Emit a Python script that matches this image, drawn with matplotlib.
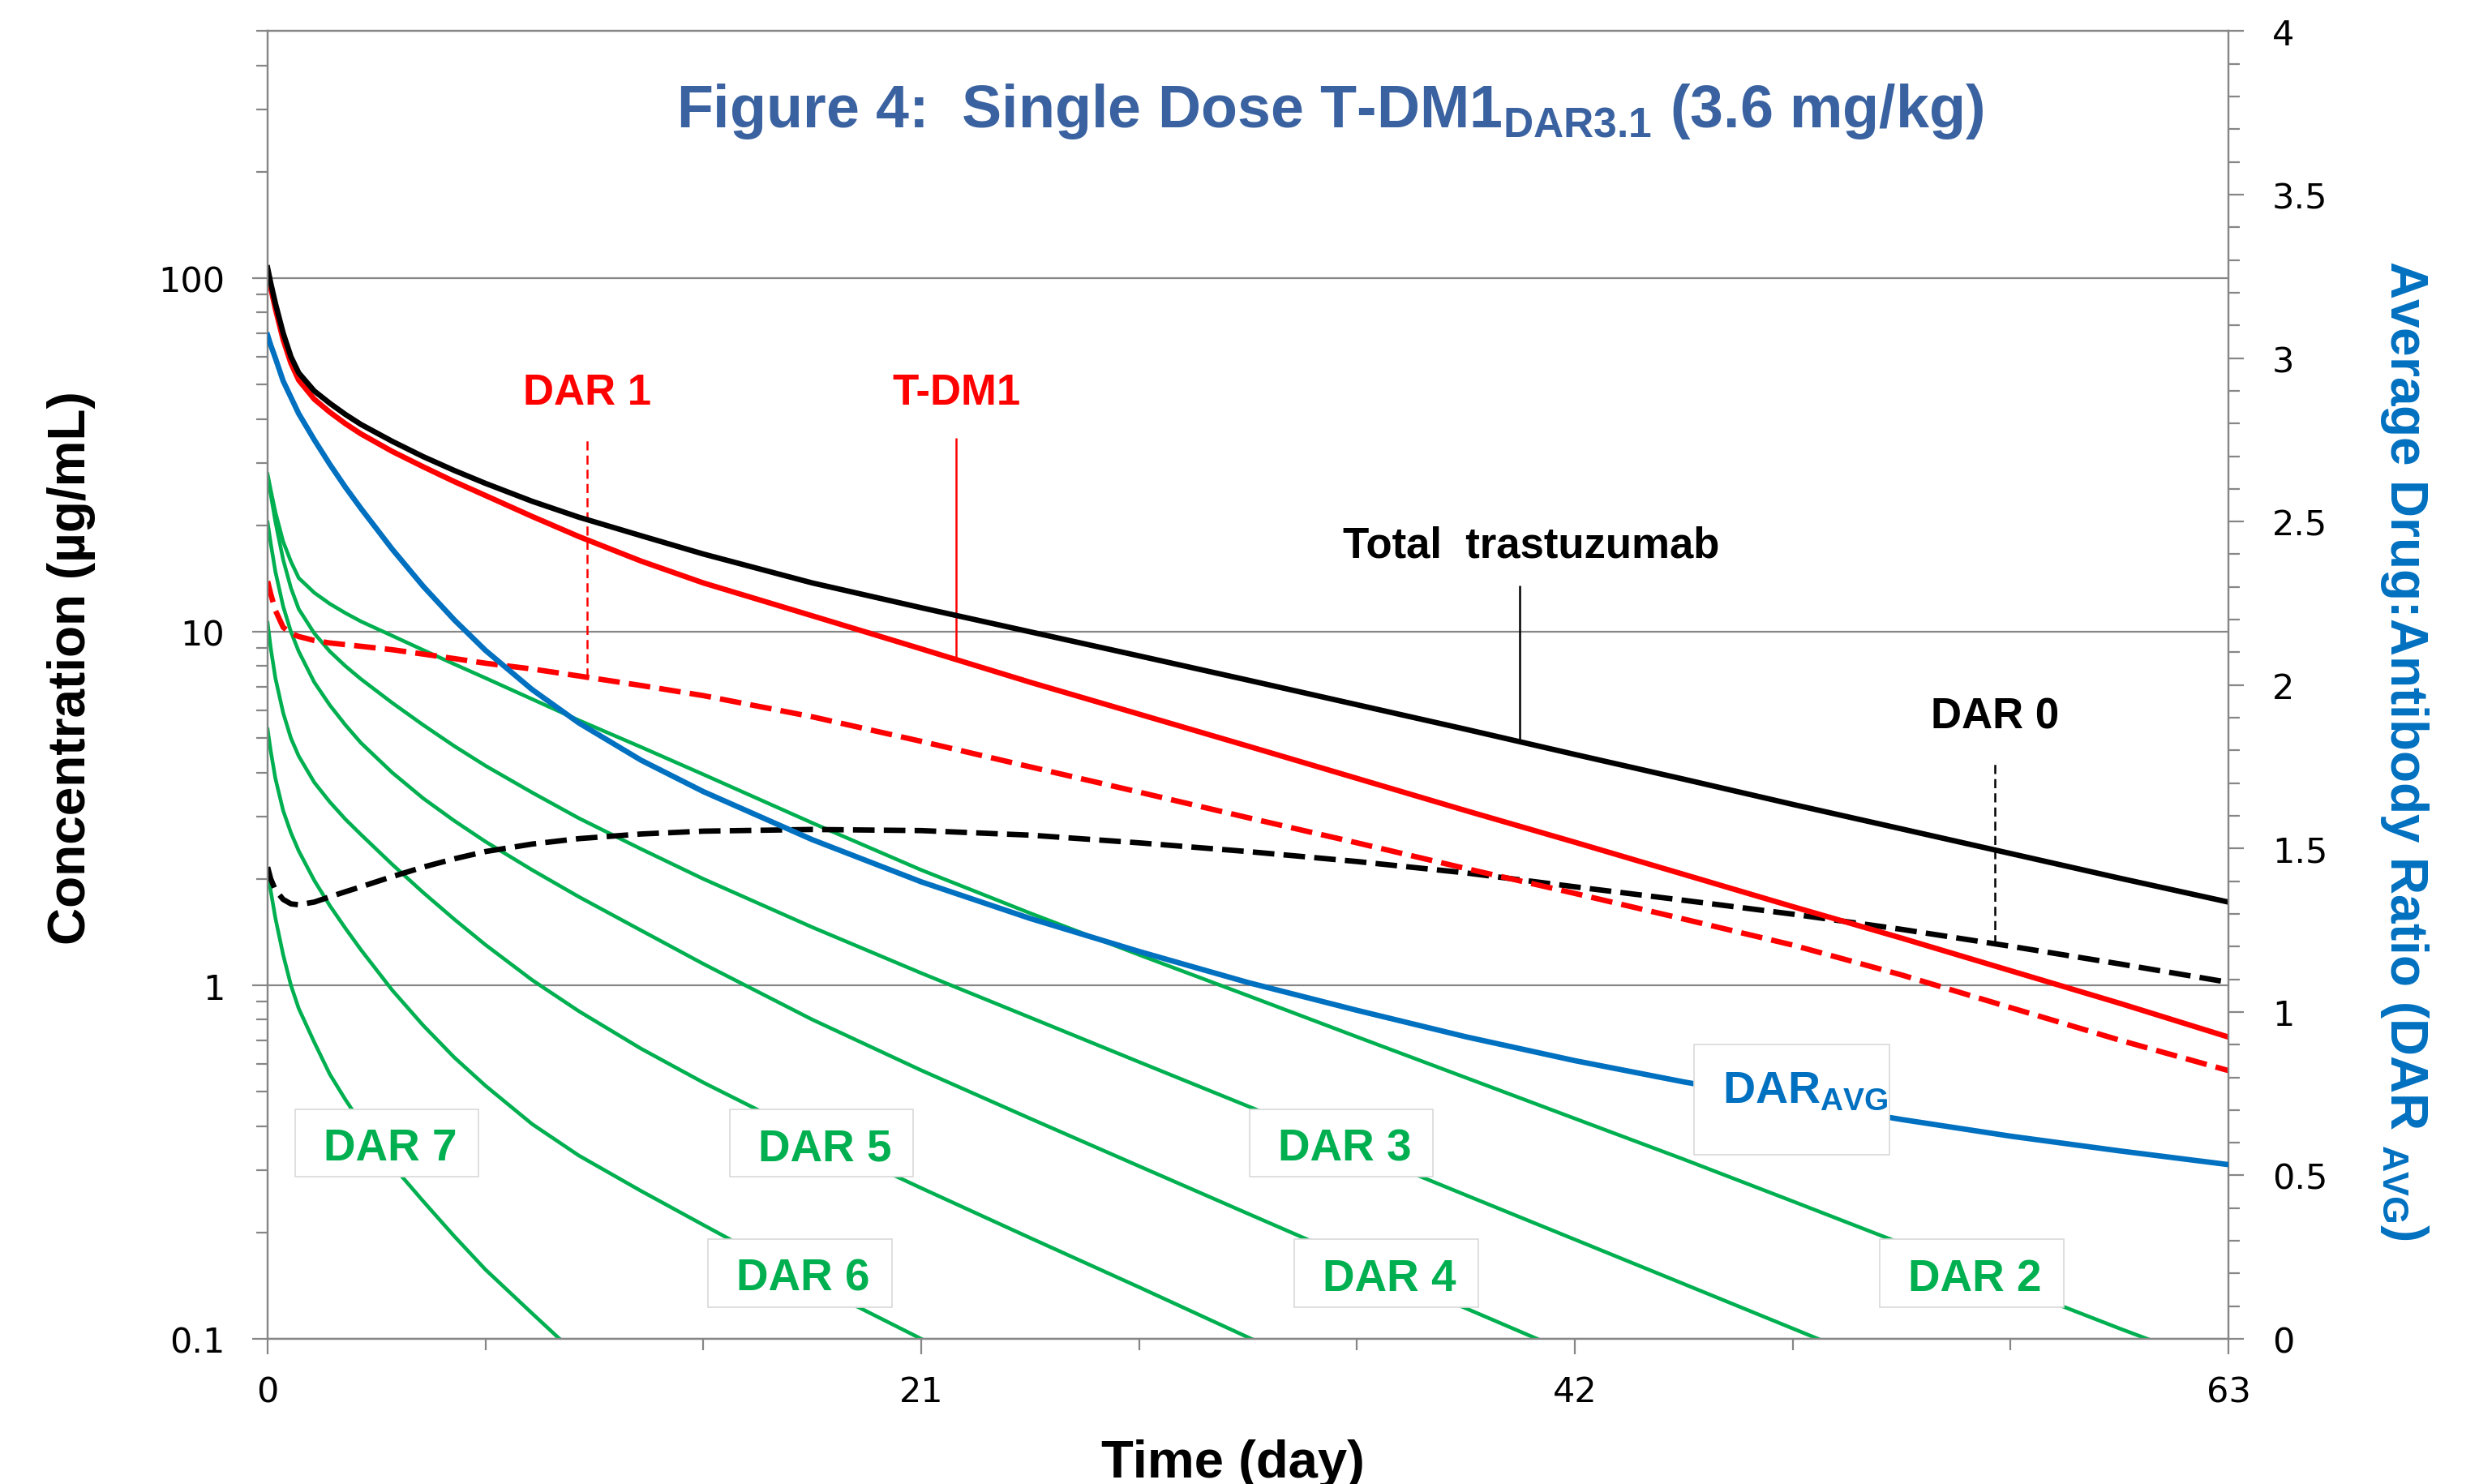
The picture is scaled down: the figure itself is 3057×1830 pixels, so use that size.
"""Figure 4 — single dose T-DM1 (3.6 mg/kg): concentration of DAR species vs time."""

import numpy as np
import matplotlib
matplotlib.use("Agg")
import matplotlib.pyplot as plt
from matplotlib.patches import Rectangle
from matplotlib.ticker import (FixedLocator, FuncFormatter, LogLocator,
                               MultipleLocator, NullFormatter)

# ─── Data ────────────────────────────────────────────────────────────────
days = [0, 0.1, 0.25, 0.5, 0.75, 1, 1.5, 2, 2.5, 3, 4, 5, 6, 7, 8.5, 10, 12,
        14, 17.5, 21, 24.5, 28, 31.5, 35, 38.5, 42, 45.5, 49, 52.5, 56, 59.5,
        63]
nan = np.nan

total_trastuzumab = [107, 97, 85, 70, 60, 54, 48, 44.3, 41.2, 38.6, 34.6, 31.3,
                     28.6, 26.3, 23.4, 21.1, 18.7, 16.6, 13.75, 11.7, 10.0,
                     8.55, 7.3, 6.22, 5.3, 4.5, 3.83, 3.25, 2.77, 2.36, 2.01,
                     1.72]
t_dm1 = [104, 94, 82, 67, 57.5, 51.5, 45.5, 41.8, 38.8, 36.3, 32.4, 29.3, 26.6,
         24.3, 21.2, 18.6, 15.85, 13.75, 11.1, 8.95, 7.2, 5.85, 4.75, 3.85,
         3.12, 2.54, 2.06, 1.67, 1.36, 1.1, 0.89, 0.714]
dar0 = [2.16, 2.0, 1.86, 1.75, 1.70, 1.69, 1.72, 1.78, 1.84, 1.90, 2.03, 2.16,
        2.28, 2.39, 2.51, 2.60, 2.68, 2.73, 2.76, 2.74, 2.66, 2.53, 2.39, 2.24,
        2.08, 1.90, 1.74, 1.59, 1.44, 1.29, 1.15, 1.02]
dar1 = [13.9, 12.8, 11.5, 10.3, 9.9, 9.7, 9.45, 9.3, 9.2, 9.1, 8.9, 8.65, 8.4,
        8.15, 7.85, 7.5, 7.05, 6.6, 5.75, 4.9, 4.15, 3.52, 2.98, 2.53, 2.14,
        1.82, 1.54, 1.3, 1.07, 0.865, 0.7, 0.574]
dar2 = [27.9, 25.2, 21.8, 18.0, 15.8, 14.2, 12.9, 12.0, 11.3, 10.7, 9.75, 8.88,
        8.1, 7.4, 6.45, 5.62, 4.72, 3.95, 2.88, 2.12, 1.6, 1.22, 0.935, 0.715,
        0.548, 0.42, 0.322, 0.245, 0.186, 0.141, 0.107, 0.082]
dar3 = [27.5, 24.5, 20.5, 16.0, 13.3, 11.6, 9.9, 8.8, 8.0, 7.35, 6.3, 5.45,
        4.75, 4.18, 3.51, 2.97, 2.43, 2.0, 1.46, 1.083, 0.811, 0.607, 0.455,
        0.341, 0.255, 0.191, 0.143, 0.107, 0.08, 0.06, nan, nan]
dar4 = [20.4, 17.8, 14.8, 11.8, 10.0, 8.8, 7.2, 6.2, 5.45, 4.85, 4.0, 3.38,
        2.92, 2.55, 2.12, 1.78, 1.43, 1.15, 0.8, 0.575, 0.42, 0.308, 0.226,
        0.166, 0.122, 0.09, 0.066, nan, nan, nan, nan, nan]
dar5 = [10.6, 9.0, 7.4, 5.9, 5.0, 4.45, 3.75, 3.3, 2.95, 2.67, 2.2, 1.83,
        1.537, 1.302, 1.035, 0.845, 0.662, 0.531, 0.372, 0.267, 0.193, 0.14,
        0.101, 0.073, nan, nan, nan, nan, nan, nan, nan, nan]
dar6 = [5.3, 4.6, 3.85, 3.12, 2.7, 2.4, 1.98, 1.68, 1.45, 1.26, 0.97, 0.77,
        0.625, 0.52, 0.405, 0.33, 0.262, 0.21, 0.143, 0.1, 0.071, nan, nan,
        nan, nan, nan, nan, nan, nan, nan, nan, nan]
dar7 = [2.1, 1.85, 1.55, 1.22, 1.0, 0.86, 0.69, 0.56, 0.475, 0.408, 0.31,
        0.245, 0.195, 0.157, 0.118, 0.089, 0.064, nan, nan, nan, nan, nan, nan,
        nan, nan, nan, nan, nan, nan, nan, nan, nan]
dar_avg = [3.07, 3.04, 3.0, 2.93, 2.88, 2.83, 2.75, 2.675, 2.605, 2.54, 2.416,
           2.302, 2.199, 2.106, 1.986, 1.884, 1.77, 1.674, 1.527, 1.398, 1.286,
           1.185, 1.09, 1.005, 0.924, 0.851, 0.786, 0.727, 0.671, 0.62, 0.575,
           0.533]

x_ticks = [0, 21, 42, 63]

# ─── Style ───────────────────────────────────────────────────────────────
AXIS_GRAY = "#868686"
BOX_EDGE = "#D9D9D9"
RED = "#FF0000"
GREEN = "#00B050"
BLUE = "#0070C0"
TITLE_BLUE = "#3A62A0"
TICK_FS = 31
LABEL_FS = 38
BOLD = dict(family=["Liberation Sans", "DejaVu Sans"], weight="bold")

plt.rcParams["font.family"] = ["Liberation Sans", "DejaVu Sans"]

fig = plt.figure(figsize=(30.57, 18.31), dpi=100, facecolor="white")
ax = fig.add_axes([0.10795, 0.09776, 0.79097, 0.88067])
ax2 = ax.twinx()

t = np.array(days)

# ─── Curves ──────────────────────────────────────────────────────────────
for series in (dar2, dar3, dar4, dar5, dar6, dar7):
    ax.plot(t, series, color=GREEN, lw=3.3, zorder=2, solid_joinstyle="round")

ax.plot(t, dar0, color="black", lw=4.8, dashes=(4.0, 1.7), zorder=3)
ax.plot(t, dar1, color=RED, lw=4.8, dashes=(4.0, 1.7), zorder=3)
ax.plot(t, t_dm1, color=RED, lw=4.8, zorder=3, solid_joinstyle="round")
ax.plot(t, total_trastuzumab, color="black", lw=4.8, zorder=3,
        solid_joinstyle="round")
ax2.plot(t, dar_avg, color=BLUE, lw=4.8, zorder=3, solid_joinstyle="round")

# ─── Axes ────────────────────────────────────────────────────────────────
ax.set_xlim(0, 63)
ax.set_yscale("log")
ax.set_ylim(0.1, 500)
ax2.set_ylim(0, 4)

ax.xaxis.set_major_locator(FixedLocator(x_ticks))
ax.xaxis.set_minor_locator(MultipleLocator(7))
ax.yaxis.set_major_locator(LogLocator(base=10, numticks=10))
ax.yaxis.set_minor_locator(LogLocator(base=10, subs=np.arange(2, 10), numticks=20))
ax.yaxis.set_major_formatter(FuncFormatter(lambda v, _: f"{v:g}"))
ax.yaxis.set_minor_formatter(NullFormatter())
ax2.yaxis.set_major_locator(MultipleLocator(0.5))
ax2.yaxis.set_minor_locator(MultipleLocator(0.1))
ax2.yaxis.set_major_formatter(FuncFormatter(lambda v, _: f"{v:g}"))

ax.yaxis.grid(True, which="major", color=AXIS_GRAY, lw=1.6)
ax.set_axisbelow(True)

for a in (ax, ax2):
    for spine in a.spines.values():
        spine.set_color(AXIS_GRAY)
        spine.set_linewidth(1.6)
    a.tick_params(which="both", direction="out", color=AXIS_GRAY, width=1.6,
                  labelsize=TICK_FS, labelfontfamily="DejaVu Sans",
                  labelcolor="black")
    a.tick_params(which="major", length=14)
    a.tick_params(which="minor", length=10)

ax.tick_params(axis="y", pad=24)
ax.tick_params(axis="x", pad=18)
ax2.tick_params(axis="y", pad=25)

# ─── Axis titles ─────────────────────────────────────────────────────────
fig.text(0.5365, 0.9143,
         r"Figure 4:  Single Dose T-DM1$_{\mathregular{DAR3.1}}$ (3.6 mg/kg)",
         ha="center", va="baseline", fontsize=53, color=TITLE_BLUE, **BOLD)
fig.text(0.0288, 0.55, "Concentration (µg/mL)", rotation=90, ha="center",
         va="center", fontsize=46, color="black", **BOLD)
fig.text(0.4975, 0.005, "Time (day)", ha="center", va="baseline",
         fontsize=47, color="black", **BOLD)
fig.text(0.970, 0.4948,
         r"Average Drug:Antibody Ratio (DAR $_{\mathregular{AVG}}$)",
         rotation=270, ha="center", va="center", fontsize=46, color=BLUE,
         **BOLD)

# ─── Leader labels ───────────────────────────────────────────────────────
def leader(text, x, y_text, y_top, series, color, dashed):
    y_bot = np.interp(x, t, series)
    ax.text(x, y_text, text, ha="center", va="center", fontsize=LABEL_FS,
            color=color, zorder=6, **BOLD)
    ax.vlines(x, y_bot, y_top, colors=color, lw=1.8, zorder=2.5,
              linestyles=(0, (4.5, 2.5)) if dashed else "solid")


leader("DAR 1", 10.27, 47.5, 35.3, dar1, RED, True)
leader("T-DM1", 22.13, 47.5, 35.3, t_dm1, RED, False)
ax.text(40.6, 17.6, "Total  trastuzumab", ha="center", va="center",
        fontsize=LABEL_FS, color="black", zorder=6, **BOLD)
ax.vlines(40.24, np.interp(40.24, t, total_trastuzumab), 13.5,
          colors="black", lw=1.8, zorder=2.5)
leader("DAR 0", 55.5, 5.77, 4.22, dar0, "black", True)


# ─── Boxed green labels ──────────────────────────────────────────────────
def boxed(text, x, y, half_w=2.95, fac=1.248):
    ax.add_patch(Rectangle((x - half_w, y / fac), 2 * half_w, y * fac - y / fac,
                           facecolor="white", edgecolor=BOX_EDGE, lw=1.2,
                           zorder=4))
    ax.text(x + 0.1, y * 0.965, text, ha="center", va="center",
            fontsize=39.5, color=GREEN, zorder=5, **BOLD)


boxed("DAR 7", 3.83, 0.358)
boxed("DAR 5", 17.8, 0.358)
boxed("DAR 3", 34.5, 0.358)
boxed("DAR 6", 17.1, 0.1535)
boxed("DAR 4", 35.94, 0.1535)
boxed("DAR 2", 54.75, 0.1535)

ax2.add_patch(Rectangle((45.84, 0.564), 6.26, 0.336, facecolor="white",
                        edgecolor=BOX_EDGE, lw=1.2, zorder=5))
ax2.text(49.4, 0.76, r"DAR$_{\mathregular{AVG}}$", ha="center", va="center",
         fontsize=40, color=BLUE, zorder=6, **BOLD)

fig.savefig("out.png", dpi=100, facecolor="white")
